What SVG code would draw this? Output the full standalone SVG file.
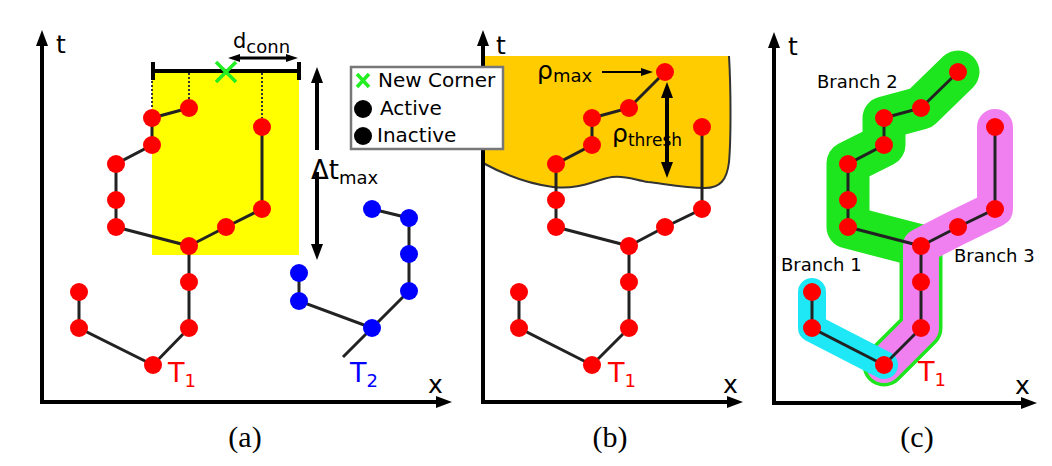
<svg xmlns="http://www.w3.org/2000/svg" width="1052" height="466" viewBox="0 0 1052 466">
<style>
.ax{stroke:#000;stroke-width:4;fill:none}
.e{stroke:#222;stroke-width:3;fill:none}
.r{fill:#ff0000}
.b{fill:#0000ff}
.k{fill:#000}
.t{font-family:"DejaVu Sans","Liberation Sans",sans-serif;fill:#000}
.cap{font-family:"Liberation Serif","Times New Roman",serif;font-size:30px;fill:#000;text-anchor:middle}
.dot{stroke:#333;stroke-width:2;stroke-dasharray:2,2}
.gx{stroke:#22ee22;stroke-width:3.5}
</style>
<defs>
<marker id="ah" markerUnits="userSpaceOnUse" markerWidth="16" markerHeight="12" viewBox="0 0 16 12" refX="6" refY="6" orient="auto-start-reverse"><path d="M0,0 L16,6 L0,12 z" fill="#000"/></marker>
<marker id="ahs" markerUnits="userSpaceOnUse" markerWidth="12" markerHeight="8" viewBox="0 0 12 8" refX="4" refY="4" orient="auto-start-reverse"><path d="M0,0 L12,4 L0,8 z" fill="#000"/></marker>
</defs>

<!-- ===== Panel (a) ===== -->
<g id="a-window">
<rect x="152" y="71" width="147" height="184" fill="#ffff00"/>
<line class="dot" x1="152" y1="73" x2="152" y2="109"/>
<line class="dot" x1="189" y1="73" x2="189" y2="99"/>
<line class="dot" x1="262" y1="73" x2="262" y2="118"/>
<line x1="152" y1="71" x2="299" y2="71" stroke="#000" stroke-width="4"/>
<line x1="153" y1="62" x2="153" y2="80" stroke="#000" stroke-width="4"/>
<line x1="299" y1="62" x2="299" y2="80" stroke="#000" stroke-width="4"/>
</g>
<g id="a-axes">
<line class="ax" x1="42" y1="404" x2="42" y2="40" marker-end="url(#ah)"/>
<line class="ax" x1="40" y1="402" x2="442" y2="402" marker-end="url(#ah)"/>
<text class="t" x="56" y="53" font-size="25">t</text>
<text class="t" x="428" y="393" font-size="25">x</text>
</g>
<g id="a-edges">
<path class="e" d="M79,292 L79,328 L153,365 L189,328 L189,246 L116,227 L116,164 L152,145 L152,118 L189,108"/>
<path class="e" d="M189,246 L226,227 L262,209 L262,127"/>
<path class="e" d="M372,209 L409,218 L409,291 L372,328 L299,301 L299,273"/>
<path class="e" d="M372,328 L343,357"/>
</g>
<g id="a-n1"><circle class="r" cx="79" cy="292" r="9"/></g>
<g id="a-n2"><circle class="r" cx="79" cy="328" r="9"/></g>
<g id="a-n3"><circle class="r" cx="153" cy="365" r="9"/></g>
<g id="a-n4"><circle class="r" cx="189" cy="328" r="9"/></g>
<g id="a-n5"><circle class="r" cx="189" cy="282" r="9"/></g>
<g id="a-n6"><circle class="r" cx="189" cy="246" r="9"/></g>
<g id="a-n7"><circle class="r" cx="116" cy="227" r="9"/></g>
<g id="a-n8"><circle class="r" cx="116" cy="200" r="9"/></g>
<g id="a-n9"><circle class="r" cx="116" cy="164" r="9"/></g>
<g id="a-n10"><circle class="r" cx="152" cy="145" r="9"/></g>
<g id="a-n11"><circle class="r" cx="152" cy="118" r="9"/></g>
<g id="a-n12"><circle class="r" cx="189" cy="108" r="9"/></g>
<g id="a-n13"><circle class="r" cx="226" cy="227" r="9"/></g>
<g id="a-n14"><circle class="r" cx="262" cy="209" r="9"/></g>
<g id="a-n15"><circle class="r" cx="262" cy="127" r="9"/></g>
<g id="a-b1"><circle class="b" cx="372" cy="209" r="9"/></g>
<g id="a-b2"><circle class="b" cx="409" cy="218" r="9"/></g>
<g id="a-b3"><circle class="b" cx="409" cy="254" r="9"/></g>
<g id="a-b4"><circle class="b" cx="409" cy="291" r="9"/></g>
<g id="a-b5"><circle class="b" cx="372" cy="328" r="9"/></g>
<g id="a-b6"><circle class="b" cx="299" cy="301" r="9"/></g>
<g id="a-b7"><circle class="b" cx="299" cy="273" r="9"/></g>
<g id="a-corner"><path class="gx" d="M216,62 L236,82 M236,62 L216,82"/></g>
<g id="a-dconn">
<line x1="236" y1="58" x2="290" y2="58" stroke="#000" stroke-width="3" marker-start="url(#ahs)" marker-end="url(#ahs)"/>
<text class="t" x="233" y="48" font-size="21">d<tspan font-size="18" dy="5">conn</tspan></text>
</g>
<g id="a-dtmax">
<line x1="317" y1="77" x2="317" y2="150" stroke="#000" stroke-width="4" marker-start="url(#ah)"/>
<line x1="317" y1="172" x2="317" y2="250" stroke="#000" stroke-width="4" marker-end="url(#ah)"/>
<text class="t" x="311" y="179" font-size="26">Δt<tspan font-size="18" dy="5">max</tspan></text>
</g>
<g id="a-labels">
<text class="t" x="168" y="382" font-size="27" fill="#ff0000" style="fill:#ff0000">T<tspan font-size="18" dy="5">1</tspan></text>
<text class="t" x="350" y="382" font-size="27" style="fill:#0000ff">T<tspan font-size="18" dy="5">2</tspan></text>
</g>

<!-- ===== Panel (b) ===== -->
<g id="b-region">
<path d="M483,56 L729,56 C731,90 731,140 729,162 C727,180 720,188 705,188 C685,188 665,184 648,182 C635,180 625,175 612,177 C595,180 580,190 553,187 C530,184 505,175 483,163 Z" fill="#ffcc00"/>
<path d="M729,56 C731,90 731,140 729,162 C727,180 720,188 705,188 C685,188 665,184 648,182 C635,180 625,175 612,177 C595,180 580,190 553,187 C530,184 505,175 483,163" fill="none" stroke="#333" stroke-width="2"/>
</g>
<g id="b-axes">
<line class="ax" x1="483" y1="404" x2="483" y2="40" marker-end="url(#ah)"/>
<line class="ax" x1="481" y1="402" x2="733" y2="402" marker-end="url(#ah)"/>
<text class="t" x="496" y="54" font-size="25">t</text>
<text class="t" x="723" y="393" font-size="25">x</text>
</g>
<g id="b-edges">
<path class="e" d="M519,292 L519,328 L592,365 L629,328 L629,246 L556,227 L556,164 L592,145 L592,118 L629,108 L665,72"/>
<path class="e" d="M629,246 L665,227 L702,209 L702,127"/>
</g>
<g id="b-n1"><circle class="r" cx="519" cy="292" r="9"/></g>
<g id="b-n2"><circle class="r" cx="519" cy="328" r="9"/></g>
<g id="b-n3"><circle class="r" cx="592" cy="365" r="9"/></g>
<g id="b-n4"><circle class="r" cx="629" cy="328" r="9"/></g>
<g id="b-n5"><circle class="r" cx="629" cy="282" r="9"/></g>
<g id="b-n6"><circle class="r" cx="629" cy="246" r="9"/></g>
<g id="b-n7"><circle class="r" cx="556" cy="227" r="9"/></g>
<g id="b-n8"><circle class="r" cx="556" cy="200" r="9"/></g>
<g id="b-n9"><circle class="r" cx="556" cy="164" r="9"/></g>
<g id="b-n10"><circle class="r" cx="592" cy="145" r="9"/></g>
<g id="b-n11"><circle class="r" cx="592" cy="118" r="9"/></g>
<g id="b-n12"><circle class="r" cx="629" cy="108" r="9"/></g>
<g id="b-n13"><circle class="r" cx="665" cy="227" r="9"/></g>
<g id="b-n14"><circle class="r" cx="702" cy="209" r="9"/></g>
<g id="b-n15"><circle class="r" cx="702" cy="127" r="9"/></g>
<g id="b-n16"><circle class="r" cx="665" cy="72" r="9"/></g>
<g id="b-rhomax">
<line x1="602" y1="72" x2="645" y2="72" stroke="#000" stroke-width="2" marker-end="url(#ahs)"/>
<text class="t" x="537" y="79" font-size="25">ρ<tspan font-size="18" dy="3">max</tspan></text>
</g>
<g id="b-rhothresh">
<line x1="667" y1="92" x2="667" y2="168" stroke="#000" stroke-width="4" marker-start="url(#ah)" marker-end="url(#ah)"/>
<text class="t" x="612" y="142" font-size="25">ρ<tspan font-size="17" dy="4">thresh</tspan></text>
</g>
<g id="b-label">
<text class="t" x="608" y="382" font-size="27" style="fill:#ff0000">T<tspan font-size="18" dy="5">1</tspan></text>
</g>

<!-- legend -->
<g id="legend">
<rect x="351" y="67" width="152" height="82" fill="#fff" stroke="#777" stroke-width="2.5"/>
<path class="gx" d="M357,74 L369,87 M369,74 L357,87"/>
<text class="t" x="378" y="87" font-size="20">New Corner</text>
<circle class="k" cx="363" cy="109" r="9"/>
<text class="t" x="380" y="115" font-size="20">Active</text>
<circle class="k" cx="363" cy="136" r="9"/>
<text class="t" x="377" y="142" font-size="20">Inactive</text>
</g>

<!-- ===== Panel (c) ===== -->
<g id="c-branches">
<path d="M958,72 L921,108 L884,118 L884,145 L848,163 L848,227 L921,246 L921,328 L884,365" fill="none" stroke="#1ee61e" stroke-width="43" stroke-linejoin="round" stroke-linecap="round"/>
<path d="M995,127 L995,209 L958,227 L921,246 L921,328 L884,365" fill="none" stroke="#f07ff0" stroke-width="36" stroke-linejoin="round" stroke-linecap="round"/>
<path d="M812,292 L812,328 L884,365" fill="none" stroke="#1ee8f5" stroke-width="28" stroke-linejoin="round" stroke-linecap="round"/>
</g>
<g id="c-axes">
<line class="ax" x1="774" y1="405" x2="774" y2="42" marker-end="url(#ah)"/>
<line class="ax" x1="772" y1="403" x2="1027" y2="403" marker-end="url(#ah)"/>
<text class="t" x="788" y="55" font-size="25">t</text>
<text class="t" x="1015" y="394" font-size="25">x</text>
</g>
<g id="c-edges">
<path class="e" d="M812,292 L812,328 L884,365 L921,328 L921,246 L848,227 L848,164 L884,145 L884,118 L921,108 L958,72"/>
<path class="e" d="M921,246 L958,227 L995,209 L995,127"/>
</g>
<g id="c-n1"><circle class="r" cx="812" cy="292" r="9"/></g>
<g id="c-n2"><circle class="r" cx="812" cy="328" r="9"/></g>
<g id="c-n3"><circle class="r" cx="884" cy="365" r="9"/></g>
<g id="c-n4"><circle class="r" cx="921" cy="328" r="9"/></g>
<g id="c-n5"><circle class="r" cx="921" cy="282" r="9"/></g>
<g id="c-n6"><circle class="r" cx="921" cy="246" r="9"/></g>
<g id="c-n7"><circle class="r" cx="848" cy="227" r="9"/></g>
<g id="c-n8"><circle class="r" cx="848" cy="200" r="9"/></g>
<g id="c-n9"><circle class="r" cx="848" cy="164" r="9"/></g>
<g id="c-n10"><circle class="r" cx="884" cy="145" r="9"/></g>
<g id="c-n11"><circle class="r" cx="884" cy="118" r="9"/></g>
<g id="c-n12"><circle class="r" cx="921" cy="108" r="9"/></g>
<g id="c-n13"><circle class="r" cx="958" cy="227" r="9"/></g>
<g id="c-n14"><circle class="r" cx="995" cy="209" r="9"/></g>
<g id="c-n15"><circle class="r" cx="995" cy="127" r="9"/></g>
<g id="c-n16"><circle class="r" cx="958" cy="72" r="9"/></g>
<g id="c-labels">
<text class="t" x="817" y="88" font-size="18">Branch 2</text>
<text class="t" x="954" y="262" font-size="18">Branch 3</text>
<text class="t" x="781" y="271" font-size="18">Branch 1</text>
<text class="t" x="918" y="381" font-size="27" style="fill:#ff0000">T<tspan font-size="18" dy="5">1</tspan></text>
</g>

<!-- captions -->
<text class="cap" x="245" y="447">(a)</text>
<text class="cap" x="610" y="447">(b)</text>
<text class="cap" x="917" y="447">(c)</text>
</svg>
